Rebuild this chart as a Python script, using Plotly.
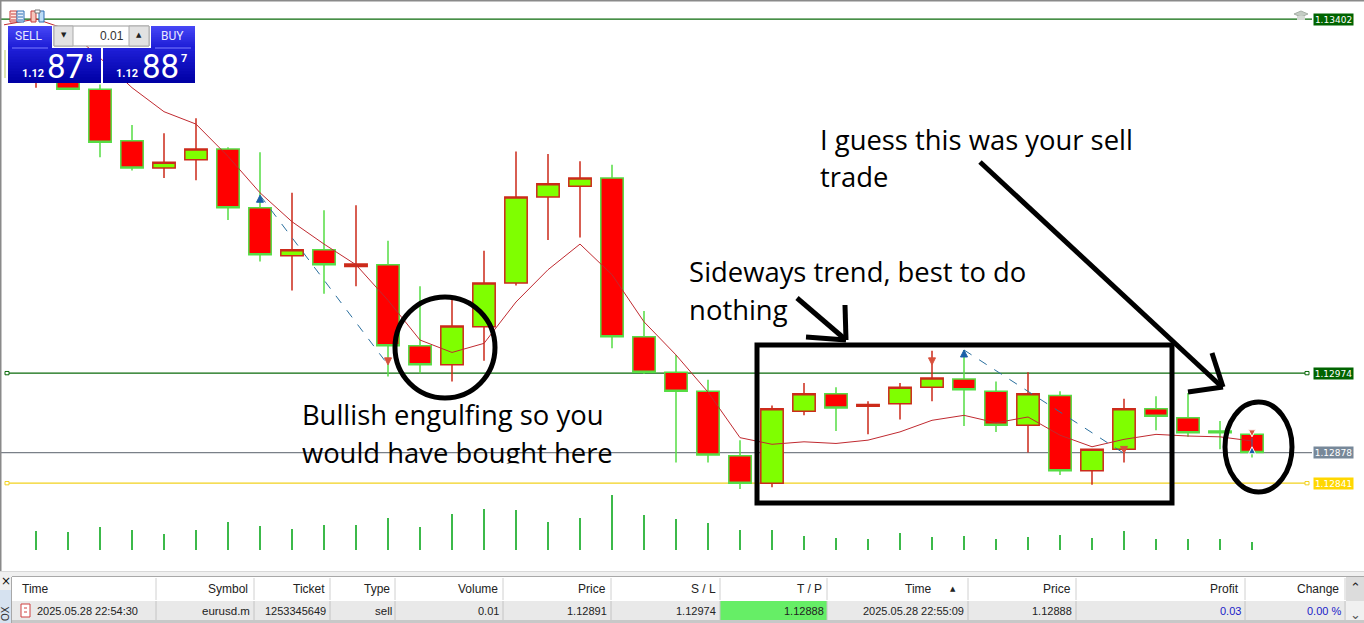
import plotly.graph_objects as go

W, H = 1364, 623

# candles (eurusd.m)
candle_x = list(range(39))
opens = [1.13328, 1.13331, 1.13317, 1.13255, 1.13222, 1.13232, 1.13245, 1.13174, 1.13116, 1.13123,
         1.13103, 1.13105, 1.13007, 1.12984, 1.13030, 1.13083, 1.13187, 1.13200, 1.13210, 1.13018,
         1.12975, 1.12952, 1.12874, 1.12841, 1.12928, 1.12949, 1.12934, 1.12937, 1.12957, 1.12967,
         1.12952, 1.12911, 1.12947, 1.12856, 1.12882, 1.12931, 1.12920, 1.12904, 1.12900]
highs = [1.13391, 1.13340, 1.13323, 1.13274, 1.13264, 1.13282, 1.13247, 1.13241, 1.13192, 1.13171,
         1.13177, 1.13134, 1.13079, 1.13067, 1.13122, 1.13242, 1.13239, 1.13230, 1.13226, 1.13049,
         1.12996, 1.12966, 1.12893, 1.12935, 1.12962, 1.12957, 1.12940, 1.12962, 1.13001, 1.13002,
         1.12964, 1.12975, 1.12952, 1.12882, 1.12943, 1.12946, 1.12950, 1.12916, 1.12900]
lows = [1.13319, 1.13317, 1.13235, 1.13219, 1.13210, 1.13207, 1.13159, 1.13109, 1.13074, 1.13070,
        1.13079, 1.12970, 1.12974, 1.12964, 1.12989, 1.13080, 1.13135, 1.13138, 1.13004, 1.12973,
        1.12866, 1.12866, 1.12834, 1.12836, 1.12923, 1.12904, 1.12900, 1.12918, 1.12940, 1.12910,
        1.12903, 1.12878, 1.12851, 1.12839, 1.12866, 1.12905, 1.12897, 1.12882, 1.12872]
closes = [1.13352, 1.13317, 1.13253, 1.13222, 1.13229, 1.13245, 1.13174, 1.13117, 1.13123, 1.13105,
          1.13106, 1.13007, 1.12984, 1.13031, 1.13083, 1.13187, 1.13203, 1.13210, 1.13018, 1.12975,
          1.12952, 1.12875, 1.12841, 1.12931, 1.12949, 1.12932, 1.12936, 1.12957, 1.12968, 1.12954,
          1.12911, 1.12949, 1.12856, 1.12882, 1.12931, 1.12922, 1.12902, 1.12902, 1.12878]
volumes = [190, 180, 230, 200, 160, 200, 280, 240, 210, 250, 250, 320, 230, 360, 410, 400, 280, 320, 550, 350,
           310, 270, 200, 200, 140, 120, 110, 170, 130, 140, 110, 130, 150, 120, 190, 110, 110, 110, 80]

# moving average, starts one bar before the first whole candle
ma_x = list(range(-1, 39))
ma_values = [1.13395, 1.13402, 1.13389, 1.13355, 1.13319, 1.13290, 1.13275, 1.13236, 1.13192, 1.13157,
             1.13130, 1.13105, 1.13062, 1.13014, 1.12999, 1.13010, 1.13060, 1.13099, 1.13130, 1.13093,
             1.13036, 1.12996, 1.12951, 1.12896, 1.12888, 1.12891, 1.12889, 1.12893, 1.12903, 1.12917,
             1.12923, 1.12914, 1.12921, 1.12899, 1.12885, 1.12894, 1.12900, 1.12898, 1.12897, 1.12892]

# trades
trade_in_x = [7, 29, 38]
trade_in_y = [1.13189, 1.13002, 1.12885]
trade_out_x = [11, 34, 38]
trade_out_y = [1.12984, 1.12877, 1.12897]
extra_out_x = [28]
extra_out_y = [1.12984]

# horizontal levels: price, colour, has handles
levels = [1.13402, 1.12974, 1.12878, 1.12841]
level_labels = ["1.13402", "1.12974", "1.12878", "1.12841"]
level_line_colors = ["#0a6a0a", "#0a6a0a", "#7a8088", "#f2d21e"]
level_tag_colors = ["#006400", "#006400", "#778899", "#ffd700"]
level_handles = [False, True, False, True]

# comments typed on the screenshot
note_texts = ["I guess this was your sell", "trade", "Sideways trend, best to do", "nothing",
              "Bullish engulfing so you", "would have bought here"]
note_x = [24.5, 24.5, 20.41, 20.41, 8.31, 8.31]
note_y = [1.13252, 1.13207, 1.13092, 1.13046, 1.12919, 1.12874]

# trade table
col_edges = [156, 254, 330, 395, 503, 611, 720, 827, 968, 1076, 1245, 1345]
header_labels = ["Symbol", "Ticket", "Type", "Volume", "Price", "S / L", "T / P", "Time", "Price", "Profit", "Change"]
header_right = [248, 325, 390, 498, 606, 716, 822, 932, 1071, 1239, 1339]
row_values = ["eurusd.m", "1253345649", "sell", "0.01", "1.12891", "1.12974", "1.12888",
              "2025.05.28 22:55:09", "1.12888", "0.03", "0.00 %"]
row_right = [250, 326, 392, 499, 607, 716, 824, 964, 1072, 1241, 1341]


def X(p):
    return p / W


def Y(p):
    return 1 - p / H


shapes = []
notes = []


def rect(x0, y0, x1, y1, fill=None, line=None, width=1, layer="above"):
    shapes.append(dict(type="rect", xref="paper", yref="paper", x0=X(x0), x1=X(x1), y0=Y(y0), y1=Y(y1),
                       fillcolor=fill if fill else "rgba(0,0,0,0)",
                       line=dict(color=line if line else "rgba(0,0,0,0)", width=width if line else 0),
                       layer=layer))


def seg(x0, y0, x1, y1, color="black", width=5, layer="above"):
    shapes.append(dict(type="line", xref="paper", yref="paper", x0=X(x0), x1=X(x1), y0=Y(y0), y1=Y(y1),
                       line=dict(color=color, width=width), layer=layer))


def label(x, y, text, size=11, color="#222222", anchor="right", font="Liberation Sans", **kw):
    # annotations keep a small inset from their anchor
    nudge = {"right": 2, "left": -2, "center": 0}[anchor]
    notes.append(dict(x=X(x + nudge), y=Y(y), xref="paper", yref="paper", text=text, showarrow=False,
                      xanchor=anchor, yanchor="middle", font=dict(family=font, size=size, color=color), **kw))


def gradient(x0, y0, x1, y1, top, bottom, steps=12):
    # shapes have no gradient fill, so paint strips that each run to the bottom
    for s in range(steps):
        t = s / (steps - 1)
        c = [round(top[k] + (bottom[k] - top[k]) * t) for k in range(3)]
        rect(x0, y0 + (y1 - y0) * s / steps, x1, y1, fill="rgb(%d,%d,%d)" % tuple(c))


# chart frame
rect(0, 0, W, 1.5, fill="#8a8a8a")
rect(0, 0, 1.5, 571, fill="#8a8a8a")

# levels, under the candles
for price, color, handle in zip(levels, level_line_colors, level_handles):
    shapes.append(dict(type="line", xref="paper", yref="y", x0=X(7) if handle else 0, x1=X(1307) if handle else X(1312),
                       y0=price, y1=price, line=dict(color=color, width=1.3), layer="below"))
for price, text, line_c, tag_c, handle in zip(levels, level_labels, level_line_colors, level_tag_colors, level_handles):
    notes.append(dict(x=X(1333.5), y=price, xref="paper", yref="y", text=text, showarrow=False,
                      width=39, height=11, bgcolor=tag_c, borderpad=0, xanchor="center", yanchor="middle",
                      font=dict(family="DejaVu Sans", size=9, color="white")))
    if handle:
        for hx in [7, 1307]:
            shapes.append(dict(type="rect", xref="paper", yref="y", x0=X(hx - 2), x1=X(hx + 2),
                               y0=price - 0.00002, y1=price + 0.00002, fillcolor="white",
                               line=dict(color=line_c, width=1), layer="above"))

# cut off the descenders of the last pasted line, as in the screenshot
rect(296, 463.5, 625, 482, fill="white")

# hand drawn marks
rect(757, 345, 1172, 503, line="black", width=5)
shapes.append(dict(type="circle", xref="paper", yref="paper", x0=X(395), x1=X(495), y0=Y(297), y1=Y(398),
                   line=dict(color="black", width=5), layer="above"))
shapes.append(dict(type="circle", xref="paper", yref="paper", x0=X(1225), x1=X(1292), y0=Y(402), y1=Y(492),
                   line=dict(color="black", width=5), layer="above"))
seg(797, 298, 846, 340)
seg(845, 305, 846, 340)
seg(806, 337, 846, 340)
seg(980, 162, 1222, 387)
seg(1212, 353, 1223, 387)
seg(1188, 392, 1223, 387)

# leftover wick at the far left edge
seg(5, 50, 5, 78, color="#b9c96a", width=1, layer="below")

# top-left toolbar icons
rect(10, 11, 17, 22, line="#c83c3c", width=1, fill="#ffe8e0")
rect(17, 11, 24, 22, line="#2f6fb5", width=1, fill="#e6f0fb")
for ly in [14, 17, 20]:
    seg(11, ly, 16, ly, color="#c83c3c", width=1)
    seg(18, ly, 23, ly, color="#2f6fb5", width=1)
rect(31, 11, 36, 22, line="#c83c3c", width=1, fill="#f6c6bc")
rect(39, 11, 44, 22, line="#2f6fb5", width=1, fill="#bcdcf6")
rect(35, 10, 40, 13, line="#777777", width=1, fill="white")

# grad cap at top right
shapes.append(dict(type="path", xref="paper", yref="paper",
                   path="M %f %f L %f %f L %f %f L %f %f Z" % (X(1294), Y(14), X(1301), Y(11), X(1308), Y(14), X(1301), Y(17)),
                   fillcolor="#c4ccc4", line=dict(color="#a8b0a8", width=1), layer="above"))
rect(1297, 16, 1305, 20, fill="#d4dad4")

# one-click trading panel
blue_top = (70, 70, 245)
blue_mid = (30, 30, 215)
blue_low = (0, 0, 165)
gradient(8, 26, 52, 48, blue_top, blue_mid)
gradient(151, 26, 195, 48, blue_top, blue_mid)
gradient(8, 48, 101, 83, blue_mid, blue_low)
gradient(103, 48, 195, 83, blue_mid, blue_low)
seg(12, 48, 48, 48, color="#7f7fff", width=1)
seg(155, 48, 191, 48, color="#7f7fff", width=1)
rect(54, 26, 149, 46, fill="white", line="#9a9a9a", width=1)
rect(54, 26, 73, 46, fill="#e2e2e2", line="#aaaaaa", width=1)
rect(129, 26, 149, 46, fill="#e2e2e2", line="#aaaaaa", width=1)
label(63.5, 35, "▼", size=7, color="#222222", anchor="center", font="DejaVu Sans")
label(139, 35, "▲", size=7, color="#222222", anchor="center", font="DejaVu Sans")
label(124, 36, "0.01", size=12, color="#333333")
label(29, 36.5, "SELL", size=12, color="#e8e8ff", anchor="center", font="Roboto")
label(172, 36.5, "BUY", size=12, color="#e8e8ff", anchor="center", font="Roboto")
label(33, 73, "<b>1.12</b>", size=11, color="white", anchor="center", font="Roboto")
label(65, 66, "87", size=33, color="white", anchor="center", font="Roboto")
label(88.5, 59, "<b>8</b>", size=11, color="white", anchor="center", font="Roboto")
label(127, 73, "<b>1.12</b>", size=11, color="white", anchor="center", font="Roboto")
label(160, 66, "88", size=33, color="white", anchor="center", font="Roboto")
label(184, 59, "<b>7</b>", size=11, color="white", anchor="center", font="Roboto")

# trade table at the bottom
rect(0, 571, W, 577, fill="#f0f0f0")
seg(0, 571.5, W, 571.5, color="#d8d8d8", width=1)
seg(12, 576.5, W, 576.5, color="#a8a8a8", width=1)
rect(12, 577, 1346, 601, fill="white")
rect(12, 601, 1346, 620, fill="#e9e9e9")
rect(12, 620, W, H, fill="#c8c8c8")
rect(720, 601, 827, 620, fill="#66ee66")
for edge in col_edges:
    seg(edge, 578, edge, 600, color="#d0d0d0", width=1)
    seg(edge, 601, edge, 620, color="#c4c4c4", width=1)
rect(0, 577, 12, 590, fill="#f0f0f0")
rect(0, 590, 12, H, fill="#d6e2f0")
seg(11.5, 577, 11.5, H, color="#a8a8a8", width=1)
label(6, 581, "×", size=12, color="#111111", anchor="center", font="DejaVu Sans")
label(5, 614, "OX", size=10, color="#333333", anchor="center", textangle=-90)
rect(1346, 577, W, 601, fill="#dcdcdc")
rect(1346, 601, W, 620, fill="#f0f0f0")
label(1355, 587, "⌃", size=13, color="#222222", anchor="center", font="DejaVu Sans")
label(1355, 614, "⌄", size=13, color="#555555", anchor="center", font="DejaVu Sans")
rect(21, 604, 30, 617, fill="white", line="#d04040", width=1)
seg(24, 608, 27, 608, color="#d04040", width=1)
seg(24, 612, 27, 612, color="#d04040", width=1)

label(22, 589, "Time", size=12, anchor="left")
label(37, 611, "2025.05.28 22:54:30", size=11, anchor="left")
for text, right in zip(header_labels, header_right):
    label(right, 589, text, size=12)
label(953, 589, "▲", size=7, color="#222222", anchor="center", font="DejaVu Sans")
for text, right in zip(row_values, row_right):
    label(right, 611, text, size=11.5 if text in ("eurusd.m", "sell") else 11,
          color="#1a1ac8" if text in ("0.03", "0.00 %") else "#222222")

fig = go.Figure()

# typed comments go first so the white strip can trim them
fig.add_trace(go.Scatter(
    x=note_x, y=note_y, mode="text", text=note_texts, textposition="middle right",
    textfont=dict(family="Open Sans", size=27.4, color="black"), hoverinfo="skip", yaxis="y"
))

fig.add_trace(go.Candlestick(
    x=candle_x, open=opens, high=highs, low=lows, close=closes,
    increasing=dict(fillcolor="#7fff00", line=dict(color="#cc2a1a", width=1.5)),
    decreasing=dict(fillcolor="#ff0000", line=dict(color="#55dd44", width=1.5)),
    whiskerwidth=0, yaxis="y"
))

fig.add_trace(go.Scatter(x=ma_x, y=ma_values, mode="lines", line=dict(color="#c02a30", width=1), yaxis="y"))

# dashed links between the trade arrows
for xa, ya, xb, yb in zip(trade_in_x, trade_in_y, trade_out_x, trade_out_y):
    fig.add_trace(go.Scatter(x=[xa, xb], y=[ya, yb], mode="lines",
                             line=dict(color="#2a6f9e", width=1, dash="dash"), yaxis="y"))

# the last trade's arrows sit on a candle and get a white rim
fig.add_trace(go.Scatter(x=trade_in_x, y=trade_in_y, mode="markers", yaxis="y",
                         marker=dict(symbol="arrow-up", size=7, color="#1a5fa8",
                                     line=dict(color=["#1a5fa8", "#1a5fa8", "white"], width=1))))
fig.add_trace(go.Scatter(x=trade_out_x + extra_out_x, y=trade_out_y + extra_out_y, mode="markers", yaxis="y",
                         marker=dict(symbol="arrow-down", size=7, color="#d8503c",
                                     line=dict(color=["#d8503c", "#d8503c", "white", "#d8503c"], width=1))))

fig.add_trace(go.Bar(x=candle_x, y=volumes, width=0.0625, marker=dict(color="#3cb94a", line=dict(width=0)), yaxis="y2"))

fig.update_layout(
    width=W, height=H,
    margin=dict(l=0, r=0, t=0, b=0),
    paper_bgcolor="white", plot_bgcolor="white",
    showlegend=False,
    shapes=shapes,
    annotations=notes,
    boxgap=0.3, boxgroupgap=0,
    xaxis=dict(range=[-1.125, 41.5], visible=False, rangeslider=dict(visible=False), fixedrange=True),
    yaxis=dict(range=[1.12672, 1.13425], visible=False, fixedrange=True),
    yaxis2=dict(range=[-730, 5500], visible=False, overlaying="y", fixedrange=True),
)

fig.write_html("out.html", config=dict(displayModeBar=False),
               post_script="document.body.style.margin='0';document.body.style.overflow='hidden';")
